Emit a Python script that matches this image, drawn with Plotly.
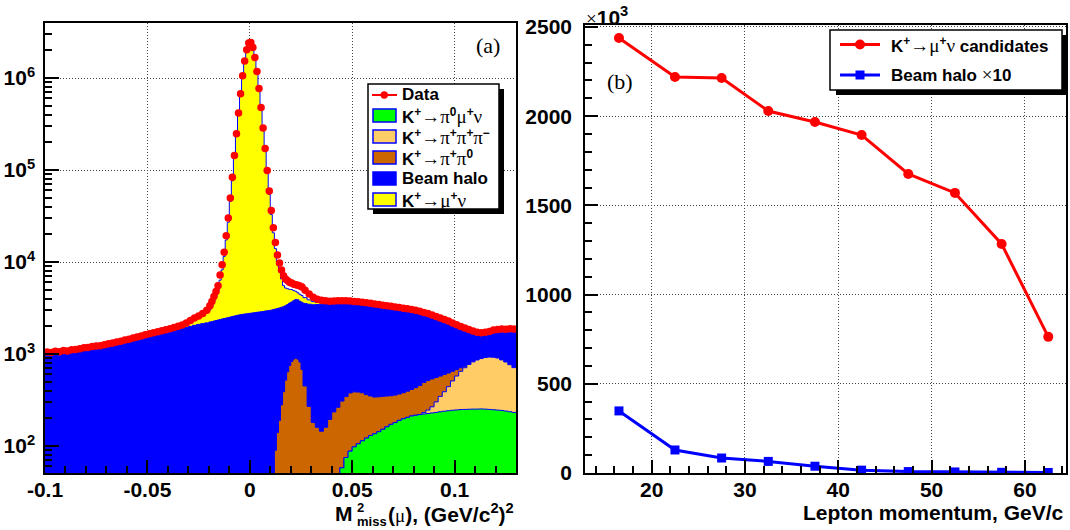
import numpy as np
import plotly.graph_objects as go

# ---------------- panel (a): M2miss histogram, bins in (GeV/c^2)^2 ----------------
# bin edges: 0.002 wide outside the peak, 0.001 wide in [-0.020, 0.026]
edges = np.round(np.concatenate([np.arange(-100, -20, 2), np.arange(-20, 26, 1),
                                 np.arange(26, 131, 2)]) / 1000.0, 4)

data_counts = [
    # -0.099 ... -0.021 (step 0.002)
    1050, 1040, 1070, 1060, 1090, 1080, 1110, 1120, 1140, 1170,
    1180, 1210, 1220, 1230, 1260, 1290, 1320, 1350, 1380, 1420,
    1450, 1490, 1530, 1570, 1620, 1660, 1700, 1750, 1790, 1840,
    1880, 1940, 2000, 2070, 2180, 2320, 2460, 2590, 2760, 3000,
    # -0.0195 ... 0.0255 (step 0.001)
    3350, 3730, 4230, 4790, 5520, 7220, 9340, 12800, 19300, 30100,
    49600, 83200, 144000, 248000, 417000, 676000, 1060000, 1530000, 2030000, 2400000,
    2440000, 2150000, 1670000, 1180000, 771000, 479000, 287000, 171000, 99000, 59100,
    36400, 23600, 16300, 11900, 9750, 8200, 7100, 6530, 6250, 6000,
    5900, 5750, 5660, 5580, 5500, 5340,
    # 0.027 ... 0.129 (step 0.002)
    4950, 4480, 4150, 3930, 3850, 3790, 3740, 3760, 3790, 3800,
    3790, 3770, 3720, 3690, 3650, 3600, 3560, 3500, 3450, 3400,
    3350, 3310, 3250, 3210, 3150, 3110, 3050, 3000, 2920, 2830,
    2750, 2650, 2560, 2470, 2380, 2280, 2180, 2080, 1990, 1920,
    1850, 1780, 1720, 1700, 1720, 1760, 1820, 1850, 1870, 1860,
    1880, 1870,
]

k_pi0munu = [  # K+ -> pi0 mu+ nu (green)
    0, 0, 0, 0, 0, 0, 0, 0, 0, 0, 0, 0, 0, 0, 0, 0, 0, 0, 0, 0,
    0, 0, 0, 0, 0, 0, 0, 0, 0, 0, 0, 0, 0, 0, 0, 0, 0, 0, 0, 0,
    0, 0, 0, 0, 0, 0, 0, 0, 0, 0, 0, 0, 0, 0, 0, 0, 0, 0, 0, 0,
    0, 0, 0, 0, 0, 0, 0, 0, 0, 0, 0, 0, 0, 0, 0, 0, 0, 0, 0, 0,
    0, 0, 0, 0, 0, 0,
    0, 0, 0, 0, 0, 10, 15, 25, 42, 58,
    75, 88, 98, 106, 114, 122, 130, 136, 143, 152,
    162, 172, 180, 190, 198, 205, 212, 216, 220, 223,
    226, 229, 232, 236, 239, 242, 245, 247, 249, 250,
    251, 252, 252, 253, 252, 250, 248, 246, 244, 240,
    236, 232,
]

k_3pi = [  # K+ -> pi+ pi+ pi- (light orange)
    0, 0, 0, 0, 0, 0, 0, 0, 0, 0, 0, 0, 0, 0, 0, 0, 0, 0, 0, 0,
    0, 0, 0, 0, 0, 0, 0, 0, 0, 0, 0, 0, 0, 0, 0, 0, 0, 0, 0, 0,
    0, 0, 0, 0, 0, 0, 0, 0, 0, 0, 0, 0, 0, 0, 0, 0, 0, 0, 0, 0,
    0, 0, 0, 0, 0, 0, 0, 0, 0, 0, 0, 0, 0, 0, 0, 0, 0, 0, 0, 0,
    0, 0, 0, 0, 0, 0,
    0, 0, 0, 0, 0, 0, 0, 0, 0, 0,
    0, 0, 0, 0, 0, 0, 0, 0, 0, 0,
    0, 0, 0, 0, 0, 0, 0, 0, 0, 8,
    20, 38, 70, 110, 150, 200, 265, 330, 400, 460,
    520, 570, 610, 640, 665, 677, 675, 660, 620, 580,
    530, 480,
]

k_pipi0 = [  # K+ -> pi+ pi0 (brown)
    0, 0, 0, 0, 0, 0, 0, 0, 0, 0, 0, 0, 0, 0, 0, 0, 0, 0, 0, 0,
    0, 0, 0, 0, 0, 0, 0, 0, 0, 0, 0, 0, 0, 0, 0, 0, 0, 0, 0, 0,
    0, 0, 0, 0, 0, 0, 0, 0, 0, 0, 0, 0, 0, 0, 0, 0, 0, 0, 0, 0,
    0, 0, 0, 0, 0, 0, 0, 0, 0, 0, 0, 0, 90, 140, 190, 280, 390, 520, 640, 750,
    830, 880, 905, 880, 820, 680,
    450, 270, 180, 160, 145, 150, 180, 210, 222, 250,
    270, 290, 290, 280, 265, 240, 220, 205, 200, 195,
    188, 180, 178, 178, 182, 190, 200, 215, 235, 260,
    270, 270, 255, 230, 210, 180, 140, 100, 60, 25,
    8, 0, 0, 0, 0, 0, 0, 0, 0, 0,
    0, 0,
]

beam_halo = [
    990, 1000, 1010, 1000, 1030, 1020, 1050, 1060, 1080, 1100,
    1110, 1130, 1150, 1160, 1190, 1210, 1240, 1270, 1300, 1330,
    1360, 1390, 1430, 1460, 1500, 1540, 1580, 1620, 1660, 1700,
    1740, 1790, 1840, 1900, 1950, 2000, 2050, 2100, 2140, 2180,
    2230, 2250, 2280, 2310, 2340, 2370, 2400, 2430, 2460, 2490,
    2520, 2560, 2590, 2620, 2650, 2680, 2700, 2720, 2740, 2760,
    2780, 2800, 2820, 2840, 2860, 2880, 2900, 2930, 2950, 2970,
    3000, 3040, 2990, 2980, 2980, 2940, 2880, 2830, 2810, 2830,
    2850, 2920, 3015, 3000, 2930, 2970,
    3100, 3210, 3250, 3290, 3335, 3360, 3355, 3365, 3376, 3372,
    3355, 3312, 3282, 3264, 3241, 3218, 3180, 3149, 3107, 3063,
    3020, 2988, 2952, 2902, 2840, 2765, 2688, 2589, 2485, 2339,
    2234, 2103, 1963, 1824, 1661, 1525, 1400, 1290, 1190, 1085,
    961, 848, 768, 727, 723, 743, 777, 804, 836, 890,
    934, 988,
]

k_munu = [  # K+ -> mu+ nu (yellow)
    8, 8, 9, 9, 10, 10, 11, 11, 12, 12,
    13, 14, 15, 16, 17, 18, 20, 22, 24, 26,
    28, 31, 34, 38, 42, 50, 60, 70, 80, 95,
    110, 125, 140, 160, 200, 260, 340, 430, 550, 720,
    785, 1030, 1440, 1905, 2520, 3980, 5820, 9070, 14900, 24600,
    43100, 73900, 131400, 230400, 393000, 646000, 1027000, 1497000, 2007000, 2397000,
    2437000, 2147000, 1647000, 1157000, 745000, 457000, 270000, 158000, 89000, 51400,
    29800, 17760, 10920, 6880, 4630, 3340, 2270, 1870, 1675, 1460,
    1335, 1090, 890, 750, 705, 675,
    550, 400, 280, 180, 110, 70, 45, 30, 20, 15,
    12, 10, 9, 8, 8, 7, 7, 6, 6, 6,
    5, 5, 5, 5, 5, 5, 5, 5, 5, 5,
    4, 4, 4, 4, 4, 4, 4, 4, 4, 4,
    4, 4, 3, 3, 3, 3, 3, 3, 3, 3,
    3, 3,
]

# ---------------- panel (b): lepton momentum bins ----------------
p_lepton = [16.5, 22.5, 27.5, 32.5, 37.5, 42.5, 47.5, 52.5, 57.5, 62.5]
kmunu_cand = [2438, 2220, 2214, 2029, 1967, 1894, 1676, 1570, 1284, 763]   # x10^3
halo_x10 = [348, 129, 84, 65, 38, 16, 8, 6, 4, 3]                           # x10^3

# ---------------- build figure ----------------
W, H = 1070, 530
def px(x):
    return x / W
def py(y):
    return 1 - y / H

centers = (edges[:-1] + edges[1:]) / 2
c1 = np.array(k_pi0munu, float)
c2 = c1 + np.array(k_3pi, float)
c3 = c2 + np.array(k_pipi0, float)
c4 = c3 + np.array(beam_halo, float)
c5 = c4 + np.array(k_munu, float)

GREEN = "#00ff00"
ORANGE = "#ffcc66"
BROWN = "#cc6600"
BLUE = "#0000ff"
YELLOW = "#ffff00"
RED = "#ff0000"

fig = go.Figure()
for cum, col in [(c5, YELLOW), (c4, BLUE), (c3, BROWN), (c2, ORANGE), (c1, GREEN)]:
    yv = np.where(cum > 0, cum, 1e-3)
    fig.add_trace(go.Scatter(
        x=edges, y=np.append(yv, yv[-1]), mode="lines", line_shape="hv",
        line=dict(color=BLUE, width=1), fill="tozeroy", fillcolor=col,
        hoverinfo="skip", showlegend=False, xaxis="x", yaxis="y"))

fig.add_trace(go.Scatter(
    x=centers, y=data_counts, mode="markers",
    marker=dict(color=RED, size=7.5, line=dict(width=0)),
    hoverinfo="skip", showlegend=False, xaxis="x", yaxis="y"))

fig.add_trace(go.Scatter(
    x=p_lepton, y=kmunu_cand, mode="lines+markers",
    line=dict(color=RED, width=3), marker=dict(symbol="circle", size=10, color=RED),
    hoverinfo="skip", showlegend=False, xaxis="x2", yaxis="y2"))
fig.add_trace(go.Scatter(
    x=p_lepton, y=halo_x10, mode="lines+markers",
    line=dict(color=BLUE, width=3), marker=dict(symbol="square", size=9, color=BLUE),
    hoverinfo="skip", showlegend=False, xaxis="x2", yaxis="y2"))

TICKFONT = dict(family="Liberation Sans", size=21, color="black", weight="bold")
GRID = dict(showgrid=True, gridcolor="#444444", gridwidth=1, griddash="1px,2px")
FRAME = dict(showline=True, linecolor="black", linewidth=1.5, mirror=True,
             ticks="inside", tickcolor="black", zeroline=False, automargin=False)

log_minor = [m * 10 ** e for e in range(1, 7) for m in range(2, 10)]

fig.update_layout(
    width=W, height=H, margin=dict(l=0, r=0, t=0, b=0, pad=0, autoexpand=False),
    paper_bgcolor="white", plot_bgcolor="white",
    xaxis=dict(domain=[px(45), px(516)], range=[-0.1, 0.13], anchor="y",
               tickmode="array", tickvals=[-0.1, -0.05, 0, 0.05, 0.1],
               ticktext=["-0.1", "-0.05", "0", "0.05", "0.1"],
               ticklen=13, tickwidth=1.5, tickfont=TICKFONT, ticklabelstandoff=-3,
               minor=dict(ticks="inside", ticklen=7, tickcolor="black", dtick=0.01,
                          tick0=0, showgrid=False),
               **GRID, **FRAME),
    yaxis=dict(domain=[py(473), py(23)], type="log", range=[1.707, 6.598], anchor="x",
               tickmode="array", tickvals=[1e2, 1e3, 1e4, 1e5, 1e6],
               ticktext=["10<sup>2</sup>", "10<sup>3</sup>", "10<sup>4</sup>",
                         "10<sup>5</sup>", "10<sup>6</sup>"],
               ticklen=14, tickwidth=1.5, tickfont=TICKFONT, ticklabelstandoff=4,
               minor=dict(ticks="inside", ticklen=7, tickcolor="black",
                          tickmode="array", tickvals=log_minor, showgrid=False),
               **GRID, **FRAME),
    xaxis2=dict(domain=[px(585), px(1066)], range=[12.86, 64.4], anchor="y2",
                dtick=10, tick0=0, ticklen=13, tickwidth=1.5, tickfont=TICKFONT,
                ticklabelstandoff=-3,
                minor=dict(ticks="inside", ticklen=7, tickcolor="black", dtick=2,
                           tick0=0, showgrid=False),
                **GRID, **FRAME),
    yaxis2=dict(domain=[py(473), py(25)], range=[0, 2511], anchor="x2",
                dtick=500, tick0=0, ticklen=13, tickwidth=1.5, tickfont=TICKFONT,
                ticklabelstandoff=7,
                minor=dict(ticks="inside", ticklen=7, tickcolor="black", dtick=100,
                           tick0=0, showgrid=False),
                **GRID, **FRAME),
)

SERIF = 'font-family:Liberation Serif;font-weight:normal;font-size:19px'
def ser(t):
    return f'<span style="{SERIF}">{t}</span>'

LEGFONT = dict(family="Liberation Sans", size=17, color="black", weight="bold")
shapes = []
annots = []

def rect(x0, y0, x1, y1, fill, line_color=None, lw=0):
    shapes.append(dict(type="rect", xref="paper", yref="paper",
                       x0=px(x0), x1=px(x1), y0=py(y1), y1=py(y0),
                       fillcolor=fill, line=dict(color=line_color or fill, width=lw)))

def text(x, y, t, font, xanchor="left"):
    annots.append(dict(xref="paper", yref="paper", x=px(x), y=py(y), text=t,
                       showarrow=False, xanchor=xanchor, yanchor="middle", font=font))

# legend (a)
rect(373, 89, 504, 214, "black")
rect(368, 84, 499, 209, "white", "black", 1.5)
shapes.append(dict(type="line", xref="paper", yref="paper", x0=px(372), x1=px(397),
                   y0=py(95), y1=py(95), line=dict(color=RED, width=2)))
shapes.append(dict(type="circle", xref="paper", yref="paper", x0=px(380.5), x1=px(388),
                   y0=py(98.7), y1=py(91.3), fillcolor=RED, line=dict(color=RED, width=0)))
text(400, 95, "Data", LEGFONT)
leg_a = [
    (115.5, GREEN, "K<sup>+</sup>" + ser("→π") + "<sup>0</sup>" + ser("μ") + "<sup>+</sup>" + ser("ν")),
    (136.5, ORANGE, "K<sup>+</sup>" + ser("→π") + "<sup>+</sup>" + ser("π") + "<sup>+</sup>" + ser("π") + "<sup>−</sup>"),
    (157.5, BROWN, "K<sup>+</sup>" + ser("→π") + "<sup>+</sup>" + ser("π") + "<sup>0</sup>"),
    (178.5, BLUE, "Beam halo"),
    (199.5, YELLOW, "K<sup>+</sup>" + ser("→μ") + "<sup>+</sup>" + ser("ν")),
]
for yy, col, t in leg_a:
    rect(373, yy - 6.5, 396, yy + 6.5, col, BLUE, 1.5)
    text(400, yy, t, LEGFONT)

# legend (b)
rect(836, 35, 1068, 95, "black")
rect(830, 30, 1062, 90, "white", "black", 1.5)
shapes.append(dict(type="line", xref="paper", yref="paper", x0=px(840), x1=px(880),
                   y0=py(44.5), y1=py(44.5), line=dict(color=RED, width=3)))
shapes.append(dict(type="circle", xref="paper", yref="paper", x0=px(855), x1=px(865),
                   y0=py(49.5), y1=py(39.5), fillcolor=RED, line=dict(color=RED, width=0)))
shapes.append(dict(type="line", xref="paper", yref="paper", x0=px(840), x1=px(880),
                   y0=py(75), y1=py(75), line=dict(color=BLUE, width=3)))
rect(855.5, 70.5, 864.5, 79.5, BLUE)
text(889, 44.5, "K<sup>+</sup>" + ser("→μ") + "<sup>+</sup>" + ser("ν") + " candidates", LEGFONT)
text(889, 75, "Beam halo " + ser("×") + "10", LEGFONT)

TITLEFONT = dict(family="Liberation Sans", size=21, color="black", weight="bold")
SMALLTITLE = dict(family="Liberation Sans", size=13, color="black", weight="bold")
text(1066, 512, "Lepton momentum, GeV/c", TITLEFONT, xanchor="right")
text(516, 513, "(" + ser("μ") + "), (GeV/c<sup>2</sup>)<sup>2</sup>", TITLEFONT, xanchor="right")
text(355, 513, "M", TITLEFONT, xanchor="right")
text(355, 507, "2", SMALLTITLE)
text(355, 521, "miss", SMALLTITLE)
text(584, 16, ser("×") + "10<sup>3</sup>", TITLEFONT)
SERFONT = dict(family="Liberation Serif", size=22, color="black")
text(488, 46, "(a)", SERFONT, xanchor="center")
text(620, 82, "(b)", SERFONT, xanchor="center")

fig.update_layout(shapes=shapes, annotations=annots)
fig.write_html("out.html", config={"displayModeBar": False},
               post_script="document.body.style.margin='0px';")
